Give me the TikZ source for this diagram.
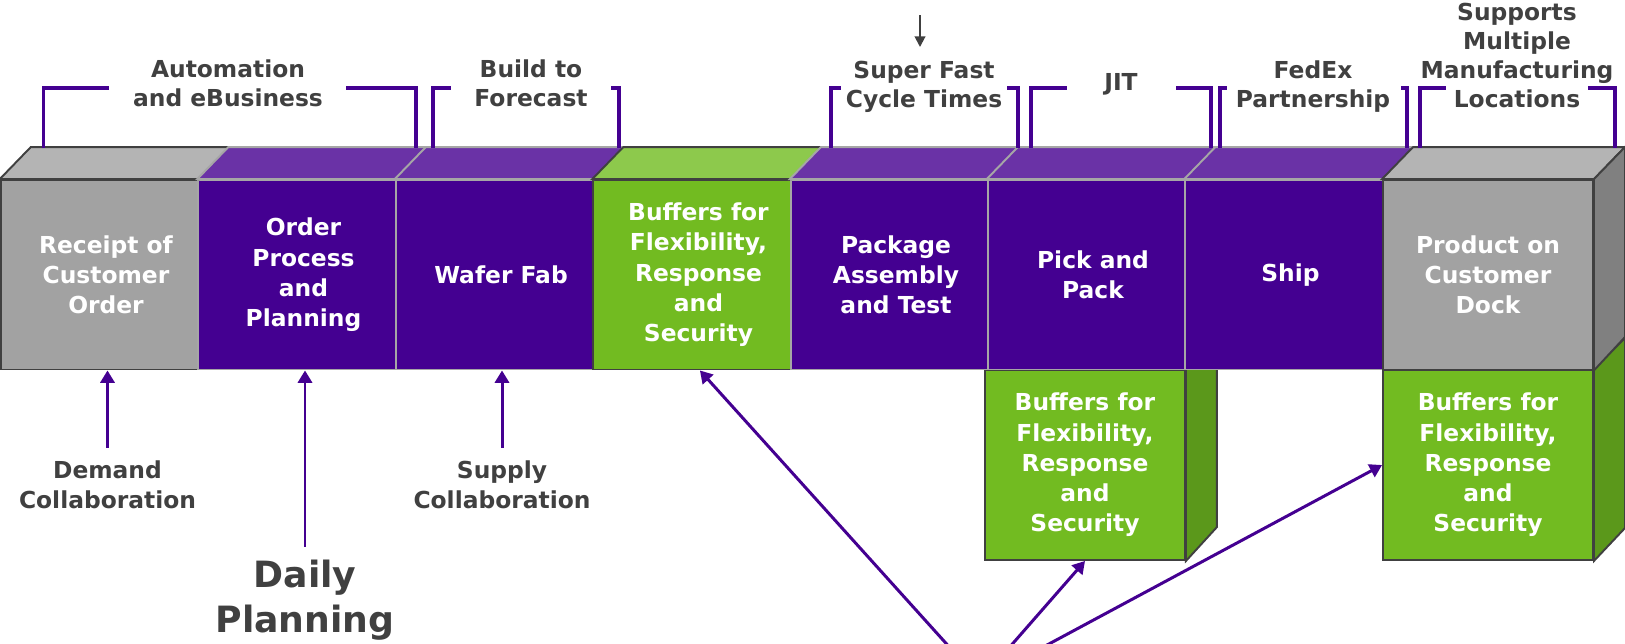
\documentclass[tikz,border=0pt]{standalone}
\usepackage{fontspec}
\setmainfont{DejaVu Sans}
\usetikzlibrary{arrows.meta}
\definecolor{myPurple}{RGB}{68,0,145}
\definecolor{purpleTop}{RGB}{106,50,166}
\definecolor{grayFront}{RGB}{162,162,162}
\definecolor{grayTop}{RGB}{180,180,180}
\definecolor{graySide}{RGB}{128,128,128}
\definecolor{greenFront}{RGB}{114,187,33}
\definecolor{greenTop}{RGB}{141,201,76}
\definecolor{greenSide}{RGB}{91,152,27}
\definecolor{textGray}{RGB}{64,64,64}
\definecolor{lineGray}{RGB}{166,166,166}

\begin{document}
\begin{tikzpicture}[x=0.02cm, y=-0.02cm,
		front/.style={draw=lineGray, line width=1.1pt, minimum width=3.95cm, minimum height=3.79cm, inner sep=0pt, align=center, text=white, font=\bfseries\fontsize{13.3}{17.2}\selectfont},
		purplebox/.style={front, fill=myPurple},
		graybox/.style={front, fill=grayFront, draw=textGray},
		greenbox/.style={front, fill=greenFront, draw=textGray},
		boxtext/.style={align=center, text=white, font=\bfseries\fontsize{13.3}{17.2}\selectfont, xshift=3.7pt},
		note/.style={align=center, text=textGray, font=\bfseries\fontsize{13.3}{16.5}\selectfont},
		bracket/.style={myPurple, line width=1.9pt},
		uparrow/.style={myPurple, line width=1.7pt, -{Triangle[length=7pt, width=8pt]}, shorten <=4pt}]
			\useasboundingbox (0,0) rectangle (1625,643);
			\clip (0,0) rectangle (1625,643);

			% buffers under the line
			\node[greenbox, minimum width=4cm, minimum height=3.8cm] (bufB) at (1085,465) {Buffers for\\Flexibility,\\Response\\and\\Security};
			\node[greenbox, minimum width=4.2cm, minimum height=3.8cm] (bufC) at (1488,465) {Buffers for\\Flexibility,\\Response\\and\\Security};
			\draw[line width=1.1pt, draw=textGray, fill=greenSide] (bufB.north east) -- ++(31,-32) -- ++(0,190) -- (bufB.south east) -- cycle;
			\draw[line width=1.1pt, draw=textGray, fill=greenSide] (bufC.north east) -- ++(31,-31) -- ++(0,190) -- (bufC.south east) -- cycle;

			% main line
			\node[graybox, label={[boxtext]center:{Receipt of\\Customer\\Order}}] (receipt) at (99.5,274.75) {};
			\node[purplebox, label={[boxtext]center:{Order\\Process\\and\\Planning}}] (order) at (297,274.75) {};
			\node[purplebox, label={[boxtext]center:{Wafer Fab}}] (wafer) at (494.5,274.75) {};
			\node[greenbox, label={[boxtext]center:{Buffers for\\Flexibility,\\Response\\and\\Security}}] (bufA) at (692,274.75) {};
			\node[purplebox, label={[boxtext]center:{Package\\Assembly\\and Test}}] (package) at (889.5,274.75) {};
			\node[purplebox, label={[boxtext]center:{Pick and\\Pack}}] (pick) at (1086.5,274.75) {};
			\node[purplebox, label={[boxtext]center:{Ship}}] (ship) at (1284,274.75) {};
			\node[graybox, minimum width=4.2cm] (dock) at (1488,274.75) {Product on\\Customer\\Dock};

			\foreach \n/\c/\e in {receipt/grayTop/textGray, order/purpleTop/lineGray, wafer/purpleTop/lineGray, bufA/greenTop/textGray, package/purpleTop/lineGray, pick/purpleTop/lineGray, ship/purpleTop/lineGray, dock/grayTop/textGray}
				\draw[line width=1.1pt, fill=\c, draw=\e] (\n.north west) -- ++(31,-32) -- ([shift={(31,-32)}]\n.north east) -- (\n.north east) -- cycle;
			\draw[line width=1.1pt, draw=textGray, fill=graySide] (dock.north east) -- ++(31,-32) -- ++(0,190) -- (dock.south east) -- cycle;

			% labels above
			\draw (228,83.5) node[note] (auto) {Automation\\and eBusiness};
			\draw (531,83.5) node[note] (build) {Build to\\Forecast};
			\draw (924,86.5) node[note] (fast) {Super Fast\\Cycle Times};
			\draw (1121,84) node[note] (jit) {JIT};
			\draw (1313,86.5) node[note] (fedex) {FedEx\\Partnership};
			\draw (1517,55.5) node[note] (multi) {Supports\\Multiple\\Manufacturing\\Locations};

			\foreach \a/\b/\c/\d in {43.5/109/346/416, 433/451/611/619, 831/841/1007/1018, 1031/1067/1176/1211, 1220/1227/1401/1407, 1420/1446/1588/1615} {
				\draw[bracket] (\a,148) |- (\b,88);
				\draw[bracket] (\c,88) -| (\d,148);
			}

			\coordinate (top) at (920,15);
			\draw[textGray, line width=1.1pt, -{Triangle[length=6pt, width=6pt]}] (top) -- (920,47);

			% labels below
			\draw (107.5,485) node[note, font=\bfseries\fontsize{13.3}{17.2}\selectfont] (demand) {Demand\\Collaboration};
			\draw (502,485) node[note, font=\bfseries\fontsize{13.3}{17.2}\selectfont] (supply) {Supply\\Collaboration};
			\draw (305,600) node[note, font=\bfseries\fontsize{20.6}{25.5}\selectfont] (daily) {Daily\\Planning};

			\draw[uparrow] (demand.north) -- (demand.north |- receipt.south);
			\draw[uparrow] (daily.north) -- (daily.north |- order.south);
			\draw[uparrow] (supply.north) -- (supply.north |- wafer.south);

			\coordinate (src) at (980,681);
			\draw[uparrow, shorten <=0pt] (src) -- ([xshift=4.5pt]bufA.south);
			\draw[uparrow, shorten <=0pt] (src) -- (bufB.south);
			\draw[uparrow, shorten <=0pt] (src) -- (bufC.west);
		\end{tikzpicture}
\end{document}
